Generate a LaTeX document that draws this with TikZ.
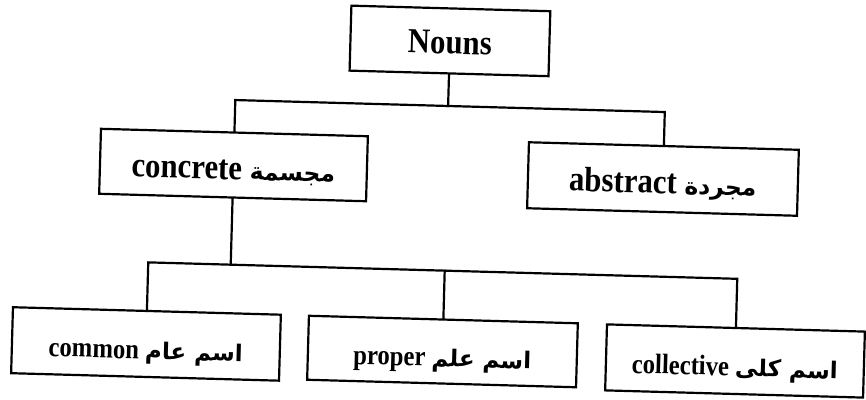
\documentclass[tikz,border=0pt]{standalone}
\usepackage{fontspec}
\setmainfont{Liberation Serif}[FakeStretch=0.88]
\newfontfamily\arabicfont[Script=Arabic]{DejaVu Sans}
\TeXXeTstate=1
\usetikzlibrary{calc}
\newcommand\armid[1]{{\fontsize{23.5}{26}\arabicfont\beginR #1\endR}}
\newcommand\arsmall[1]{{\fontsize{23}{26}\arabicfont\beginR #1\endR}}
\begin{document}
\begin{tikzpicture}[x=1pt,y=-1pt,
  box/.style={draw, line width=2.2pt, inner sep=0pt, transform shape, text depth=0pt},
  bigtxt/.style={font=\bfseries\fontsize{35}{38}\selectfont, text height=26pt},
  midtxt/.style={font=\bfseries\fontsize{35}{38}\selectfont, text height=29pt},
  smalltxt/.style={font=\bfseries\fontsize{28}{31}\selectfont, text height=30pt},
  conn/.style={line width=2.2pt, line cap=rect}]
\useasboundingbox (0,0) rectangle (866,399);
\begin{scope}[rotate around={-1.6:(433,200)}]
  \node[box, bigtxt, minimum width=199pt, minimum height=65pt] (nouns) at (445.5,40.5) {Nouns};
  \node[box, midtxt, minimum width=267pt, minimum height=65pt] (concrete) at (232.6,170.6)
    {concrete \armid{مجسمة}};
  \node[box, midtxt, minimum width=270pt, minimum height=66pt] (abstract) at (662.3,172.6)
    {abstract \armid{مجردة}};
  \node[box, smalltxt, minimum width=268pt, minimum height=66pt] (common) at (150.1,351.9)
    {common \arsmall{اسم عام}};
  \node[box, smalltxt, minimum width=269pt, minimum height=64pt] (proper) at (446.7,351.2)
    {proper \arsmall{اسم علم}};
  \node[box, smalltxt, minimum width=258pt, minimum height=66pt] (collective) at (739.4,352.5)
    {collective \arsmall{اسم كلى}};
  \coordinate (b1a) at (100,105.6);
  \coordinate (b1b) at (800,105.6);
  \coordinate (b2a) at (100,270.3);
  \coordinate (b2b) at (800,270.3);
\end{scope}
\draw[conn] (concrete.north) -- ($(b1a)!(concrete.north)!(b1b)$) -- ($(b1a)!(abstract.north)!(b1b)$) -- (abstract.north);
\draw[conn] (nouns.south) -- ($(b1a)!(nouns.south)!(b1b)$);
\draw[conn] (concrete.south) -- ($(b2a)!(concrete.south)!(b2b)$);
\draw[conn] (common.north) -- ($(b2a)!(common.north)!(b2b)$) -- ($(b2a)!(collective.north)!(b2b)$) -- (collective.north);
\draw[conn] (proper.north) -- ($(b2a)!(proper.north)!(b2b)$);
\end{tikzpicture}
\end{document}
